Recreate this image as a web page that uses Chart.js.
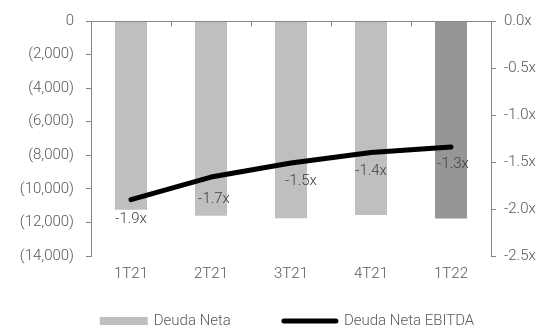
<!DOCTYPE html>
<html>
<head>
<meta charset="utf-8">
<script src="https://cdn.jsdelivr.net/npm/chart.js@4.4.1/dist/chart.umd.min.js"></script>
<style>
  html, body { margin: 0; padding: 0; background: #ffffff; }
  #wrap { width: 555px; height: 332px; }
</style>
</head>
<body>
<div id="wrap"><canvas id="chart" width="555" height="332"></canvas></div>
<script>
// Quarterly net debt (millions) and net debt / EBITDA ratio
const categories = ['1T21', '2T21', '3T21', '4T21', '1T22'];
const deudaNeta = [-11250, -11600, -11750, -11550, -11770];
const deudaNetaEbitda = [-1.90, -1.66, -1.51, -1.40, -1.34];
const leftTicks = [0, -2000, -4000, -6000, -8000, -10000, -12000, -14000];
const rightTicks = [0, -0.5, -1.0, -1.5, -2.0, -2.5];

const FONT = "Roboto, 'Liberation Sans', sans-serif";
const FONT_WEIGHT = 300;
const FONT_SIZE = 15;
const TEXT = '#595959';
const AXIS = '#868686';
const BAR = '#bfbfbf';
const BAR_LAST = '#969696';

const barColors = categories.map((c, i) => i === categories.length - 1 ? BAR_LAST : BAR);

// Zero line across the top with small inward ticks between categories
const topAxis = {
  id: 'topAxis',
  afterDatasetsDraw(chart) {
    const { ctx, chartArea, scales } = chart;
    const y0 = Math.round(scales.y.getPixelForValue(0)) + 0.5;
    ctx.save();
    ctx.strokeStyle = AXIS;
    ctx.lineWidth = 1;
    ctx.beginPath();
    ctx.moveTo(chartArea.left, y0);
    ctx.lineTo(chartArea.right, y0);
    for (let i = 1; i < categories.length; i++) {
      const x = Math.round((scales.x.getPixelForValue(i - 1) + scales.x.getPixelForValue(i)) / 2) + 0.5;
      ctx.moveTo(x, y0);
      ctx.lineTo(x, y0 + 5);
    }
    ctx.stroke();
    ctx.restore();
  }
};

// Ratio labels under each point of the line
const ratioLabels = {
  id: 'ratioLabels',
  afterDatasetsDraw(chart, args, opts) {
    const { ctx } = chart;
    const meta = chart.getDatasetMeta(1);
    ctx.save();
    ctx.font = opts.font;
    ctx.fillStyle = opts.color;
    ctx.textAlign = 'center';
    ctx.textBaseline = 'middle';
    meta.data.forEach((pt, i) => {
      const v = chart.data.datasets[1].data[i];
      const dx = (opts.nudgeX && opts.nudgeX[i]) || 0;
      const dy = (opts.nudgeY && opts.nudgeY[i]) || 0;
      ctx.fillText(v.toFixed(1) + 'x', pt.x + dx, pt.y + opts.offset + dy);
    });
    ctx.restore();
  }
};

// Legend along the bottom: a bar swatch and a thick line swatch
const bottomLegend = {
  id: 'bottomLegend',
  afterDraw(chart, args, opts) {
    const { ctx, chartArea } = chart;
    const ds = chart.data.datasets;
    ctx.save();
    ctx.font = opts.font;
    ctx.textBaseline = 'middle';
    ctx.textAlign = 'left';
    const t0 = ctx.measureText(ds[0].label).width;
    const t1 = ctx.measureText(ds[1].label).width;
    const total = opts.barW + opts.textGap + t0 + opts.itemGap + opts.lineW + opts.textGap + t1;
    let x = (chartArea.left + chartArea.right) / 2 + opts.shift - total / 2;
    const y = opts.y;
    ctx.fillStyle = BAR;
    ctx.fillRect(x, y - opts.barH / 2, opts.barW, opts.barH);
    x += opts.barW + opts.textGap;
    ctx.fillStyle = TEXT;
    ctx.fillText(ds[0].label, x, y);
    x += t0 + opts.itemGap;
    ctx.strokeStyle = ds[1].borderColor;
    ctx.lineWidth = ds[1].borderWidth;
    ctx.lineCap = 'round';
    ctx.beginPath();
    ctx.moveTo(x + 2, y);
    ctx.lineTo(x + opts.lineW - 2, y);
    ctx.stroke();
    x += opts.lineW + opts.textGap;
    ctx.fillText(ds[1].label, x, y);
    ctx.restore();
  }
};

new Chart(document.getElementById('chart'), {
  type: 'bar',
  data: {
    labels: categories,
    datasets: [
      {
        label: 'Deuda Neta',
        data: deudaNeta,
        backgroundColor: barColors,
        borderWidth: 0,
        barPercentage: 0.4,
        categoryPercentage: 1.0,
        yAxisID: 'y',
        order: 2
      },
      {
        type: 'line',
        label: 'Deuda Neta EBITDA',
        data: deudaNetaEbitda,
        borderColor: '#000000',
        backgroundColor: '#000000',
        borderWidth: 5,
        borderCapStyle: 'round',
        borderJoinStyle: 'round',
        pointRadius: 0,
        tension: 0,
        yAxisID: 'y1',
        order: 1
      }
    ]
  },
  options: {
    responsive: false,
    animation: false,
    devicePixelRatio: 1,
    layout: { padding: { top: 20, left: 0, right: 0, bottom: 44 } },
    plugins: {
      tooltip: { enabled: false },
      legend: { display: false },
      ratioLabels: {
        font: FONT_WEIGHT + ' ' + FONT_SIZE + 'px ' + FONT,
        color: '#404040',
        offset: 19,
        nudgeX: [0, 3, 10, 0, 2],
        nudgeY: [1, 3, -1, 0, -2]
      },
      bottomLegend: {
        font: FONT_WEIGHT + ' ' + FONT_SIZE + 'px ' + FONT,
        y: 321,
        barW: 48,
        barH: 8,
        lineW: 56,
        textGap: 6,
        itemGap: 51,
        shift: -4
      }
    },
    scales: {
      x: {
        offset: true,
        grid: { display: false, drawTicks: false },
        border: { display: false },
        ticks: { color: TEXT, font: { family: FONT, size: FONT_SIZE, weight: FONT_WEIGHT }, padding: 9 },
        afterFit(s) { s.height = 32; }
      },
      y: {
        position: 'left',
        min: -14000,
        max: 0,
        afterBuildTicks(s) { s.ticks = leftTicks.map(v => ({ value: v })); },
        grid: { drawOnChartArea: false, drawTicks: true, tickLength: 5, color: AXIS },
        border: { display: true, color: AXIS },
        ticks: {
          color: TEXT,
          font: { family: FONT, size: FONT_SIZE, weight: FONT_WEIGHT },
          padding: 12,
          callback: v => v === 0 ? '0' : '(' + Math.abs(v).toLocaleString('en-US') + ')'
        },
        afterFit(s) { s.width = 91; }
      },
      y1: {
        position: 'right',
        min: -2.5,
        max: 0,
        afterBuildTicks(s) { s.ticks = rightTicks.map(v => ({ value: v })); },
        grid: { drawOnChartArea: false, drawTicks: true, tickLength: 5, color: AXIS },
        border: { display: true, color: AXIS },
        ticks: {
          color: TEXT,
          font: { family: FONT, size: FONT_SIZE, weight: FONT_WEIGHT },
          padding: 8,
          callback: v => v.toFixed(1) + 'x'
        },
        afterFit(s) { s.width = 64; }
      }
    }
  },
  plugins: [topAxis, ratioLabels, bottomLegend]
});
</script>
</body>
</html>
